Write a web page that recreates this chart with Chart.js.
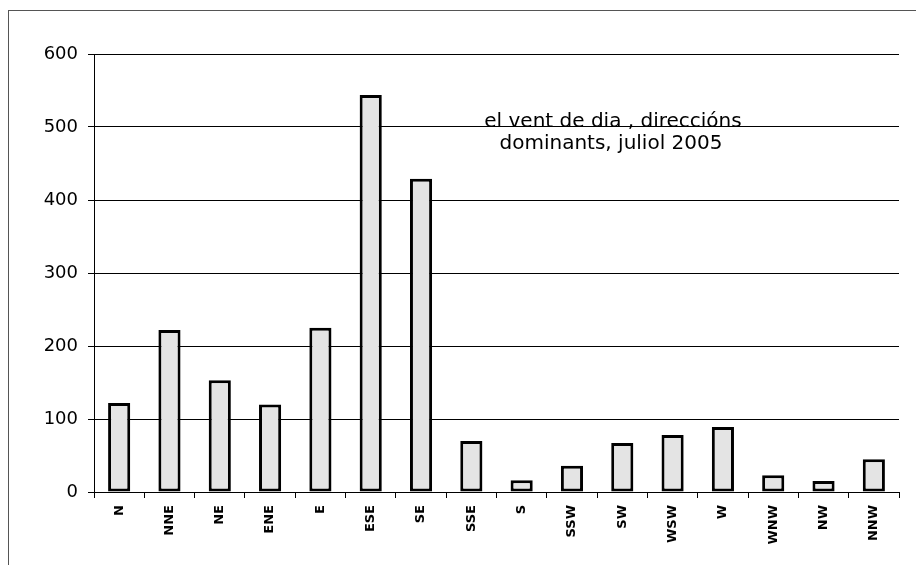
<!DOCTYPE html>
<html>
<head>
<meta charset="utf-8">
<script src="https://cdn.jsdelivr.net/npm/chart.js@4/dist/chart.umd.min.js"></script>
<style>
  body { margin: 0; background: #fff; }
  #wrap { position: relative; width: 916px; height: 565px; }
  #frame { position: absolute; left: 8px; top: 10px; right: 0; bottom: 0; border-left: 1px solid #555; border-top: 1px solid #555; pointer-events: none; }
</style>
</head>
<body>
<div id="wrap">
  <canvas id="barChart" width="916" height="565"></canvas>
  <div id="frame"></div>
</div>
<script>
// wind directions and counts
const directions = ['N', 'NNE', 'NE', 'ENE', 'E', 'ESE', 'SE', 'SSE', 'S', 'SSW', 'SW', 'WSW', 'W', 'WNW', 'NW', 'NNW'];
const counts = [122, 222, 153, 120, 225, 544, 429, 70, 16, 36, 67, 78, 89, 23, 15, 45];
const titleLines = ['el vent de dia , direccións', 'dominants, juliol 2005'];

const fontFamily = '"DejaVu Sans", Arial, sans-serif';

// text sitting inside the plot area
const insideTitle = {
    id: 'insideTitle',
    afterDraw(chart) {
        const ctx = chart.ctx;
        ctx.save();
        ctx.fillStyle = '#000';
        ctx.font = '20px ' + fontFamily;
        ctx.textAlign = 'center';
        ctx.textBaseline = 'alphabetic';
        ctx.fillText(titleLines[0], 613, 127);
        ctx.fillText(titleLines[1], 611, 149);
        ctx.restore();
    }
};

var bar = document.getElementById('barChart').getContext('2d');
var myChart = new Chart(bar, {
    type: 'bar',
    data: {
        labels: directions,
        datasets: [{
            data: counts,
            backgroundColor: '#e4e4e4',
            borderColor: '#000',
            borderWidth: 3,
            borderSkipped: false,
            barPercentage: 0.44,
            categoryPercentage: 1
        }]
    },
    options: {
        responsive: false,
        animation: false,
        layout: { padding: { left: 0, top: 54, right: 17, bottom: 0 } },
        plugins: {
            legend: { display: false },
            tooltip: { enabled: false }
        },
        scales: {
            x: {
                afterFit: (s) => { s.height = 73; },
                grid: { offset: true, drawOnChartArea: false, color: '#000', tickLength: 6 },
                border: { color: '#000', width: 1 },
                ticks: {
                    color: '#000',
                    minRotation: 90,
                    maxRotation: 90,
                    padding: 7,
                    font: { family: fontFamily, size: 13, weight: 'bold' }
                }
            },
            y: {
                min: 0,
                max: 600,
                afterFit: (s) => { s.width = 94; },
                grid: { color: '#000', lineWidth: 1, tickLength: 6 },
                border: { color: '#000', width: 1 },
                ticks: {
                    stepSize: 100,
                    color: '#000',
                    padding: 10,
                    font: { family: fontFamily, size: 18 }
                }
            }
        }
    },
    plugins: [insideTitle]
});
</script>
</body>
</html>
